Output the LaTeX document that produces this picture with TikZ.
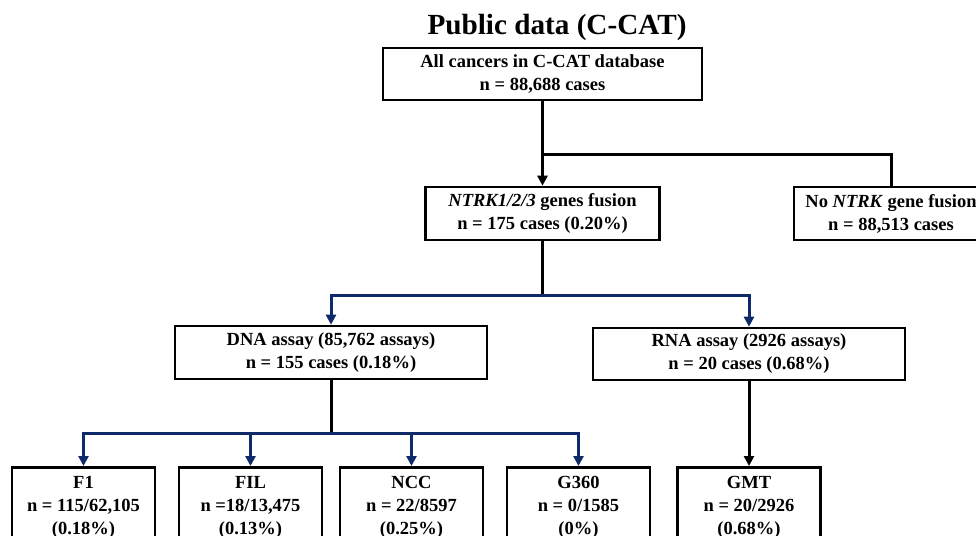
\documentclass[tikz,border=0pt]{standalone}
\usepackage{fontspec}
\setmainfont{Liberation Serif}
\usetikzlibrary{arrows.meta}
\definecolor{navy}{RGB}{14,42,106}
\begin{document}
\begin{tikzpicture}[x=1pt,y=-1pt,
  box/.style={draw=black,line width=2.6pt,align=center,font=\fontsize{18.5}{23}\selectfont\bfseries,inner sep=0pt},
  leaf/.style={draw=black,line width=2.6pt,align=center,font=\fontsize{18.5}{23}\selectfont\bfseries,anchor=north,minimum width=143pt,inner xsep=0pt,inner ysep=9pt},
  blk/.style={line width=3pt,draw=black},
  blu/.style={line width=3pt,draw=navy},
  tip/.style={-{Triangle[width=10pt,length=10pt]}}]
\useasboundingbox (0,0) rectangle (976,535);
\node[font=\fontsize{29.2}{34}\selectfont\bfseries,anchor=base,inner sep=0pt] (title) at (557,35) {Public data (C-CAT)};
\node[box,minimum width=319pt,minimum height=52pt] (all) at (542.5,74) {All cancers in C-CAT database\\n = 88,688 cases};
\node[box,minimum width=234pt,minimum height=53pt] (ntrk) at (542.5,213.5) {\textit{NTRK1/2/3} genes fusion\\n = 175 cases (0.20\%)};
\node[box,minimum width=194pt,minimum height=53pt] (no) at (891,213.5) {No \textit{NTRK} gene fusion\\n = 88,513 cases};
\node[box,minimum width=312pt,minimum height=53pt] (dna) at (331,352.5) {DNA assay (85,762 assays)\\n = 155 cases (0.18\%)};
\node[box,minimum width=312pt,minimum height=52pt] (rna) at (749,354) {RNA assay (2926 assays)\\n = 20 cases (0.68\%)};
\node[leaf] (f1) at (83.5,466) {F1\\n = 115/62,105\\(0.18\%)};
\node[leaf] (fil) at (250.5,466) {FIL\\n =18/13,475\\(0.13\%)};
\node[leaf] (ncc) at (411.5,466) {NCC\\n = 22/8597\\(0.25\%)};
\node[leaf] (g360) at (578.5,466) {G360\\n = 0/1585\\(0\%)};
\node[leaf] (gmt) at (749,466) {GMT\\n = 20/2926\\(0.68\%)};
\coordinate (j1) at (542.5,154);
\coordinate (j2) at (542.5,295);
\coordinate (j3) at (331,433);
\draw[blk] (all.south) -- (j1);
\draw[blk,tip] (j1) -- (ntrk.north);
\draw[blk] (j1) -| (no.north);
\draw[blk] (ntrk.south) -- (j2);
\draw[blu,tip] (j2) -| (dna.north);
\draw[blu,tip] (j2) -| (rna.north);
\draw[blk] (dna.south) -- (j3);
\draw[blu,tip] (j3) -| (f1.north);
\draw[blu,tip] (j3) -| (fil.north);
\draw[blu,tip] (j3) -| (ncc.north);
\draw[blu,tip] (j3) -| (g360.north);
\draw[blk,tip] (rna.south) -- (gmt.north);
\end{tikzpicture}
\end{document}
